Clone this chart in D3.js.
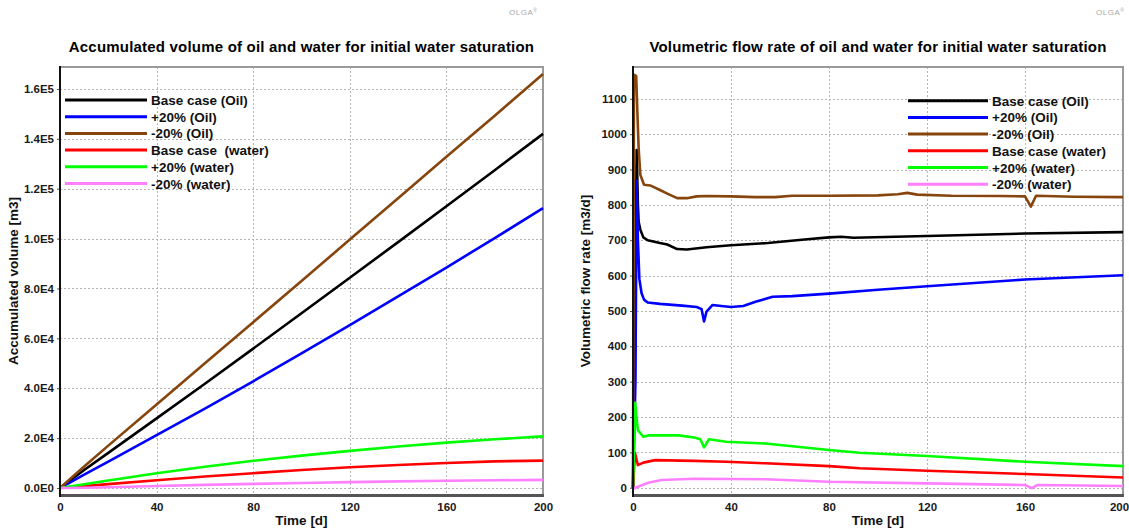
<!DOCTYPE html>
<html>
<head>
<meta charset="utf-8">
<script src="https://cdn.jsdelivr.net/npm/d3@7"></script>
<style>
  html, body { margin: 0; padding: 0; background: #ffffff; }
  svg { display: block; font-family: "Liberation Sans", Arial, sans-serif; }
</style>
</head>
<body>
<svg id="chart" width="1129" height="532"></svg>
<script>
// ---- Series labels and colours ----
const seriesNamesLeft = ["Base case (Oil)", "+20% (Oil)", "-20% (Oil)", "Base case  (water)", "+20% (water)", "-20% (water)"];
const seriesNamesRight = ["Base case (Oil)", "+20% (Oil)", "-20% (Oil)", "Base case (water)", "+20% (water)", "-20% (water)"];
const seriesColors = ["#000000", "#0000ff", "#86450d", "#ff0000", "#00ff00", "#ff80ff"];

// ---- Accumulated volume [m3] vs time [d] ----
const accTime = [0, 10, 20, 40, 60, 80, 100, 120, 140, 160, 180, 200];
const accBaseOil  = [0, 7200, 14100, 27900, 41800, 55900, 70100, 84300, 98600, 113000, 127400, 142000];
const accPlusOil  = [0, 5400, 10600, 21200, 31800, 42800, 54000, 65300, 76800, 88400, 100200, 112200];
const accMinusOil = [0, 8600, 17000, 33500, 50000, 66500, 83000, 99600, 116200, 132800, 149300, 166000];
const accBaseWater  = [0, 750, 1550, 3100, 4600, 5950, 7200, 8300, 9250, 10050, 10700, 11000];
const accPlusWater  = [0, 1500, 3000, 5900, 8500, 10900, 13000, 14900, 16650, 18200, 19550, 20700];
const accMinusWater = [0, 100, 300, 800, 1250, 1650, 2000, 2350, 2650, 2900, 3100, 3250];
const accTicks = [0, 20000, 40000, 60000, 80000, 100000, 120000, 140000, 160000];
const accTickLabels = ["0.0E0", "2.0E4", "4.0E4", "6.0E4", "8.0E4", "1.0E5", "1.2E5", "1.4E5", "1.6E5"];

// ---- Volumetric flow rate [m3/d] vs time [d], as [time, rate] ----
const rateBaseOil = [[0,0],[1.2,700],[1.5,955],[2.0,800],[2.3,752],[3.0,730],[4.2,708],[6,700],[11,692],[14,688],[18,675],[22,674],[30,680],[40,686],[55,692],[70,702],[80,708],[85,710],[90,707],[120,712],[160,719],[200,723]];
const ratePlusOil = [[0,0],[1.0,300],[1.5,869],[2.0,700],[2.6,590],[3.5,550],[4.5,532],[6,524],[11,520],[20,515],[26,511],[28,505],[29,470],[30,498],[32.5,517],[36,514],[40,511],[45,514],[50,526],[57,540],[65,542],[80,549],[100,560],[120,570],[160,589],[200,601]];
const rateMinusOil = [[0,0],[0.4,1168],[1.3,1165],[1.8,1060],[2.3,960],[3.0,885],[4.5,857],[7,855],[11,842],[14,832],[18,819],[22,819],[26,824],[30,825],[40,824],[50,822],[58,822],[65,826],[80,826],[100,827],[108,830],[112,834],[116,829],[130,826],[150,825],[160,824],[162.4,795],[164.5,826],[180,823],[200,822]];
const rateBaseWater = [[0,0],[0.8,99],[2.0,64],[4.2,71],[9,78],[25,76],[38,73.5],[54,69],[80,61],[92.5,55],[120,48],[160,38.7],[200,29]];
const ratePlusWater = [[0,0],[0.9,240],[1.4,200],[2.0,163],[4.2,144],[6.2,148],[18.6,148],[25,142],[27.5,137],[29,114],[31,137],[38,130],[54,125],[80,106.5],[92.5,99],[120,89.6],[160,73.5],[200,61]];
const rateMinusWater = [[0,-2],[2,3],[6.2,14],[11.6,22],[25,25.4],[54,24],[80,17],[120,12.4],[160,7.6],[162.8,-1],[165,7.6],[200,4.8]];
const rateTicks = [0, 100, 200, 300, 400, 500, 600, 700, 800, 900, 1000, 1100];
const rateTickLabels = ["0", "100", "200", "300", "400", "500", "600", "700", "800", "900", "1000", "1100"];

const timeTicks = [0, 40, 80, 120, 160, 200];
const timeTickLabels = ["0", "40", "80", "120", "160", "200"];

const svg = d3.select("#chart");

function drawPanel(cfg) {
  const g = svg.append("g");
  const x = d3.scaleLinear().domain([0, 200]).range([cfg.left, cfg.right]);
  const y = d3.scaleLinear().domain(cfg.yDomain).range([cfg.bottom, cfg.top]);

  // dotted grid
  g.append("g").selectAll("line").data(cfg.yTicks).join("line")
    .attr("x1", cfg.left).attr("x2", cfg.right)
    .attr("y1", d => Math.round(y(d)) + 0.5).attr("y2", d => Math.round(y(d)) + 0.5)
    .attr("stroke", "#b4b4b4").attr("stroke-width", 1).attr("stroke-dasharray", "2,2");
  g.append("g").selectAll("line").data(timeTicks.slice(1, -1)).join("line")
    .attr("x1", d => Math.round(x(d)) + 0.5).attr("x2", d => Math.round(x(d)) + 0.5)
    .attr("y1", cfg.top).attr("y2", cfg.bottom)
    .attr("stroke", "#b4b4b4").attr("stroke-width", 1).attr("stroke-dasharray", "2,2");

  // top and right frame
  g.append("path")
    .attr("d", `M${cfg.left},${cfg.top}H${cfg.right}V${cfg.bottom}`)
    .attr("fill", "none").attr("stroke", "#9a9a9a").attr("stroke-width", 2);

  // axes
  const yAxis = d3.axisLeft(y).tickValues(cfg.yTicks)
    .tickFormat((d, i) => cfg.yTickLabels[i]).tickSizeOuter(0).tickSizeInner(3).tickPadding(3);
  const yg = g.append("g").attr("transform", `translate(${cfg.left},0)`).call(yAxis);
  yg.select(".domain").remove();
  yg.selectAll(".tick line").attr("stroke", "#555");
  yg.selectAll("text").attr("font-size", "11.5px").attr("font-weight", "bold").attr("fill", "#1a1a1a")
    .attr("font-family", "'Liberation Sans', Arial, sans-serif");

  const xAxis = d3.axisBottom(x).tickValues(timeTicks)
    .tickFormat((d, i) => timeTickLabels[i]).tickSizeOuter(0).tickSizeInner(0).tickPadding(8);
  const xg = g.append("g").attr("transform", `translate(0,${cfg.bottom})`).call(xAxis);
  xg.select(".domain").remove();
  xg.selectAll("text").attr("font-size", "11.5px").attr("font-weight", "bold").attr("fill", "#1a1a1a")
    .attr("font-family", "'Liberation Sans', Arial, sans-serif");
  if (cfg.lastTickShift) {
    xg.selectAll(".tick").filter(d => d === 200).select("text").attr("dx", cfg.lastTickShift);
  }

  // series
  const line = d3.line().x(d => x(d[0])).y(d => y(d[1]));
  cfg.series.forEach((s, i) => {
    g.append("path").datum(s)
      .attr("d", line)
      .attr("fill", "none")
      .attr("stroke", seriesColors[i])
      .attr("stroke-width", 2.6)
      .attr("stroke-linejoin", "round");
  });

  // axis lines (left dark, bottom thick grey)
  g.append("line").attr("x1", cfg.left).attr("x2", cfg.right + 1).attr("y1", cfg.bottom + 0.5).attr("y2", cfg.bottom + 0.5)
    .attr("stroke", "#555555").attr("stroke-width", 3);
  g.append("line").attr("x1", cfg.left).attr("x2", cfg.left).attr("y1", cfg.top - 1).attr("y2", cfg.bottom + 2)
    .attr("stroke", "#111111").attr("stroke-width", 2);

  // legend
  cfg.names.forEach((name, i) => {
    const ly = cfg.legY + i * 16.7;
    g.append("line").attr("x1", cfg.legX).attr("x2", cfg.legX + cfg.legLen)
      .attr("y1", ly).attr("y2", ly)
      .attr("stroke", seriesColors[i]).attr("stroke-width", 3);
    g.append("text").attr("x", cfg.legX + cfg.legLen + 4).attr("y", ly + 5)
      .attr("font-size", "13.5px").attr("font-weight", "bold").attr("fill", "#111")
      .attr("xml:space", "preserve").style("white-space", "pre")
      .text(name);
  });

  // title
  g.append("text").attr("x", (cfg.left + cfg.right) / 2).attr("y", 52)
    .attr("text-anchor", "middle").attr("font-size", "15px").attr("font-weight", "bold").attr("fill", "#000")
    .attr("letter-spacing", "0.2px")
    .text(cfg.title);

  // axis titles
  g.append("text").attr("x", (cfg.left + cfg.right) / 2).attr("y", 525)
    .attr("text-anchor", "middle").attr("font-size", "13.5px").attr("font-weight", "bold").attr("fill", "#111")
    .text("Time [d]");
  g.append("text")
    .attr("transform", `translate(${cfg.yLabelX},${(cfg.top + cfg.bottom) / 2}) rotate(-90)`)
    .attr("text-anchor", "middle").attr("font-size", "13.5px").attr("font-weight", "bold").attr("fill", "#111")
    .text(cfg.yLabel);

  // watermark
  const wm = g.append("text").attr("x", cfg.logoX).attr("y", 15)
    .attr("font-size", "8px").attr("fill", "#a8a8a8").attr("letter-spacing", "0.5px");
  wm.append("tspan").text("OLGA");
  wm.append("tspan").attr("font-size", "5px").attr("dy", "-3").text("®");
}

drawPanel({
  left: 60, right: 543, top: 67, bottom: 495,
  yDomain: [-2800, 168800],
  yTicks: accTicks, yTickLabels: accTickLabels,
  series: [accBaseOil, accPlusOil, accMinusOil, accBaseWater, accPlusWater, accMinusWater]
    .map(vals => accTime.map((t, i) => [t, vals[i]])),
  names: seriesNamesLeft,
  legX: 65, legY: 100, legLen: 82,
  title: "Accumulated volume of oil and water for initial water saturation",
  yLabel: "Accumulated volume [m3]", yLabelX: 18,
  logoX: 509
});

drawPanel({
  left: 633, right: 1123, top: 67, bottom: 495,
  yDomain: [-20.6, 1190],
  yTicks: rateTicks, yTickLabels: rateTickLabels,
  series: [rateBaseOil, ratePlusOil, rateMinusOil, rateBaseWater, ratePlusWater, rateMinusWater],
  names: seriesNamesRight,
  legX: 908, legY: 100.7, legLen: 80,
  title: "Volumetric flow rate of oil and water for initial water saturation",
  yLabel: "Volumetric flow rate [m3/d]", yLabelX: 590,
  logoX: 1096,
  lastTickShift: -4
});
</script>
</body>
</html>
